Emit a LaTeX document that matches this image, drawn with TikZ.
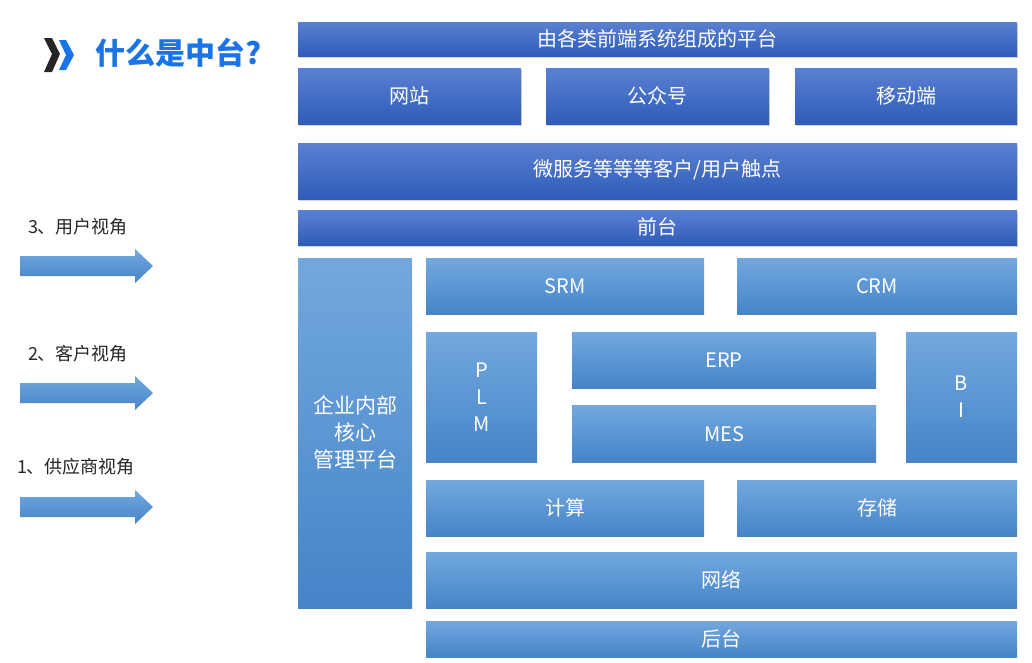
\documentclass[tikz,border=0pt]{standalone}
\usepackage{fontspec}
\setmainfont{Noto Sans CJK SC}
\usetikzlibrary{shadows}
\definecolor{dtop}{HTML}{5B80D2}
\definecolor{dbot}{HTML}{2E5CB8}
\definecolor{ltop}{HTML}{72A8DE}
\definecolor{lbot}{HTML}{4684C8}
\definecolor{ttl}{HTML}{1A73E8}
\tikzset{
  dbox/.style={top color=dtop,bottom color=dbot,draw=none,drop shadow={opacity=0.35,shadow xshift=1pt,shadow yshift=-1.5pt}},
  lbox/.style={top color=ltop,bottom color=lbot,draw=none},
  lt/.style={text=white,font=\fontsize{20}{24}\selectfont,align=center},
  lbl/.style={font=\fontsize{18}{20}\selectfont,text=black!85},
  arr/.style={top color=ltop,bottom color=lbot,draw=none}
}
\begin{document}
\begin{tikzpicture}[x=1pt,y=-1pt]
\useasboundingbox (0,0) rectangle (1032,662);
% title
\fill[black!85] (44,38) -- (52,38) -- (60,54) -- (52,72) -- (44,72) -- (52,54) -- cycle;
\fill[ttl] (59,40) -- (66,40) -- (74,55) -- (66,70) -- (59,70) -- (66,55) -- cycle;
\node[anchor=west,text=ttl,font=\fontsize{30}{32}\selectfont\bfseries] (title) at (92,53) {什么是中台?};
% dark boxes
\path[dbox] (298,22) rectangle (1017,56); \node[lt] (t1) at (657.5,39) {由各类前端系统组成的平台};
\path[dbox] (298,68) rectangle (521,124); \node[lt] (w1) at (409.5,96) {网站};
\path[dbox] (546,68) rectangle (769,124); \node[lt] (w2) at (657.5,96) {公众号};
\path[dbox] (795,68) rectangle (1017,124); \node[lt] (w3) at (906,96) {移动端};
\path[dbox] (298,143) rectangle (1017,199); \node[lt] (ms) at (657.5,170) {微服务等等等客户/用户触点};
\path[dbox] (298,210) rectangle (1017,245); \node[lt] (qt) at (657.5,227) {前台};
% light boxes
\path[lbox] (298,258) rectangle (412,608); \node[lt,font=\fontsize{21}{27}\selectfont] (core) at (355,432) {企业内部\\核心\\管理平台};
\path[lbox] (426,258) rectangle (704,314); \node[lt] (srm) at (565,286) {SRM};
\path[lbox] (737,258) rectangle (1017,314); \node[lt] (crm) at (877,286) {CRM};
\path[lbox] (426,332) rectangle (537,462); \node[lt,font=\fontsize{20}{27}\selectfont] (plm) at (481.5,397) {P\\L\\M};
\path[lbox] (572,332) rectangle (876,388); \node[lt] (erp) at (724,360) {ERP};
\path[lbox] (572,405) rectangle (876,462); \node[lt] (mes) at (724,434) {MES};
\path[lbox] (906,332) rectangle (1017,462); \node[lt,font=\fontsize{20}{27}\selectfont] (bi) at (961.5,397) {B\\I};
\path[lbox] (426,480) rectangle (704,536); \node[lt] (js) at (565,508) {计算};
\path[lbox] (737,480) rectangle (1017,536); \node[lt] (cc) at (877,508) {存储};
\path[lbox] (426,552) rectangle (1017,608); \node[lt] (wl) at (721.5,580) {网络};
\path[lbox] (426,621) rectangle (1017,657); \node[lt] (ht) at (721.5,639) {后台};
% left
\node[lbl] (v3) at (78,227) {3、用户视角};
\node[lbl] (v2) at (78,354) {2、客户视角};
\node[lbl] (v1) at (76,467) {1、供应商视角};
\foreach \y in {266,393,507}{
  \path[arr] (20,\y-10) -- (135,\y-10) -- (135,\y-17) -- (153,\y) -- (135,\y+17) -- (135,\y+10) -- (20,\y+10) -- cycle;
}
\end{tikzpicture}
\end{document}
